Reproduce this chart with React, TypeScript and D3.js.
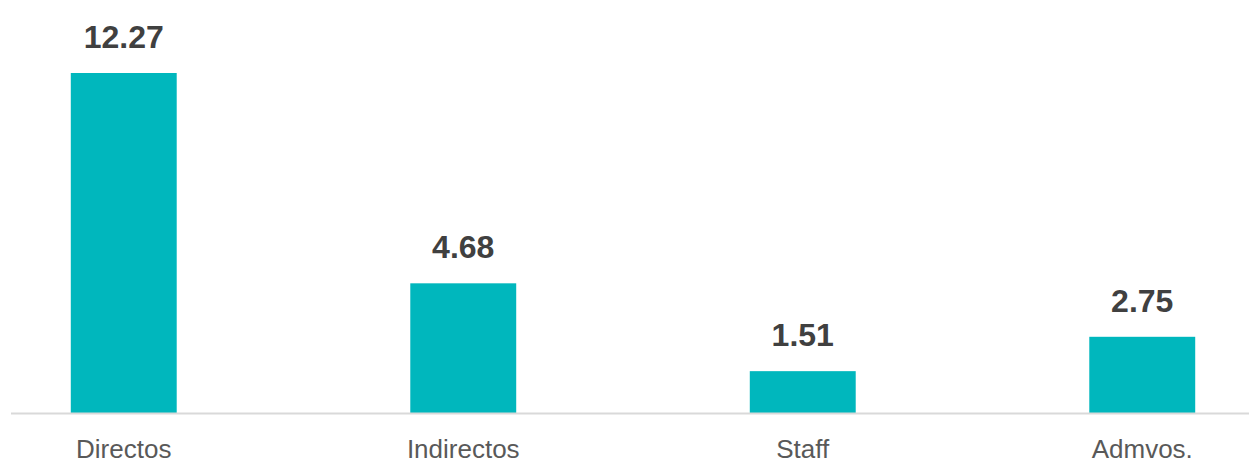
import { useEffect, useRef } from 'react';
import * as d3 from 'd3';

// Chart data
const categories = ['Directos', 'Indirectos', 'Staff', 'Admvos.'];
const values = [12.27, 4.68, 1.51, 2.75];
const valueLabels = ['12.27', '4.68', '1.51', '2.75'];

const App = () => {
  const svgRef = useRef<SVGSVGElement | null>(null);

  useEffect(() => {
    const width = 1249;
    const height = 465;
    const baseline = 413;
    const top = 73;

    const data = categories.map((c, i) => ({ cat: c, value: values[i], label: valueLabels[i] }));

    // x: category bands, the plot area runs a bit past the right edge like the source
    const x = d3.scaleBand()
      .domain(categories)
      .range([-46, 1312])
      .paddingInner(0.688)
      .paddingOuter(0.344);

    // y: value to pixel, 12.27 reaches the top bar edge
    const y = d3.scaleLinear()
      .domain([0, 12.27])
      .range([baseline, top]);

    const svg = d3.select(svgRef.current)
      .attr('width', width)
      .attr('height', height)
      .attr('viewBox', [0, 0, width, height]);

    svg.selectAll('*').remove();

    // bars
    svg.append('g')
      .selectAll('rect')
      .data(data)
      .join('rect')
      .attr('x', d => x(d.cat) as number)
      .attr('y', d => y(d.value))
      .attr('width', x.bandwidth())
      .attr('height', d => y(0) - y(d.value))
      .attr('fill', '#00B7BD');

    // category axis line
    svg.append('line')
      .attr('x1', 11)
      .attr('x2', width)
      .attr('y1', y(0) + 0.5)
      .attr('y2', y(0) + 0.5)
      .attr('stroke', '#D9D9D9')
      .attr('stroke-width', 2);

    // value labels above bars
    svg.append('g')
      .selectAll('text')
      .data(data)
      .join('text')
      .attr('x', d => (x(d.cat) as number) + x.bandwidth() / 2)
      .attr('y', d => y(d.value) - 25)
      .attr('text-anchor', 'middle')
      .attr('font-family', '"Liberation Sans", Arial, sans-serif')
      .attr('font-weight', 'bold')
      .attr('font-size', 32)
      .attr('fill', '#404040')
      .text(d => d.label);

    // category labels
    svg.append('g')
      .selectAll('text')
      .data(data)
      .join('text')
      .attr('x', d => (x(d.cat) as number) + x.bandwidth() / 2)
      .attr('y', 458)
      .attr('text-anchor', 'middle')
      .attr('font-family', '"Liberation Sans", Arial, sans-serif')
      .attr('font-size', 26)
      .attr('fill', '#595959')
      .text(d => d.cat);
  }, []);

  return (
    <div style={{ position: 'absolute', left: 0, top: 0, width: 1249, height: 465, background: '#fff' }}>
      <svg ref={svgRef} style={{ display: 'block' }}></svg>
    </div>
  );
};

export default App;
